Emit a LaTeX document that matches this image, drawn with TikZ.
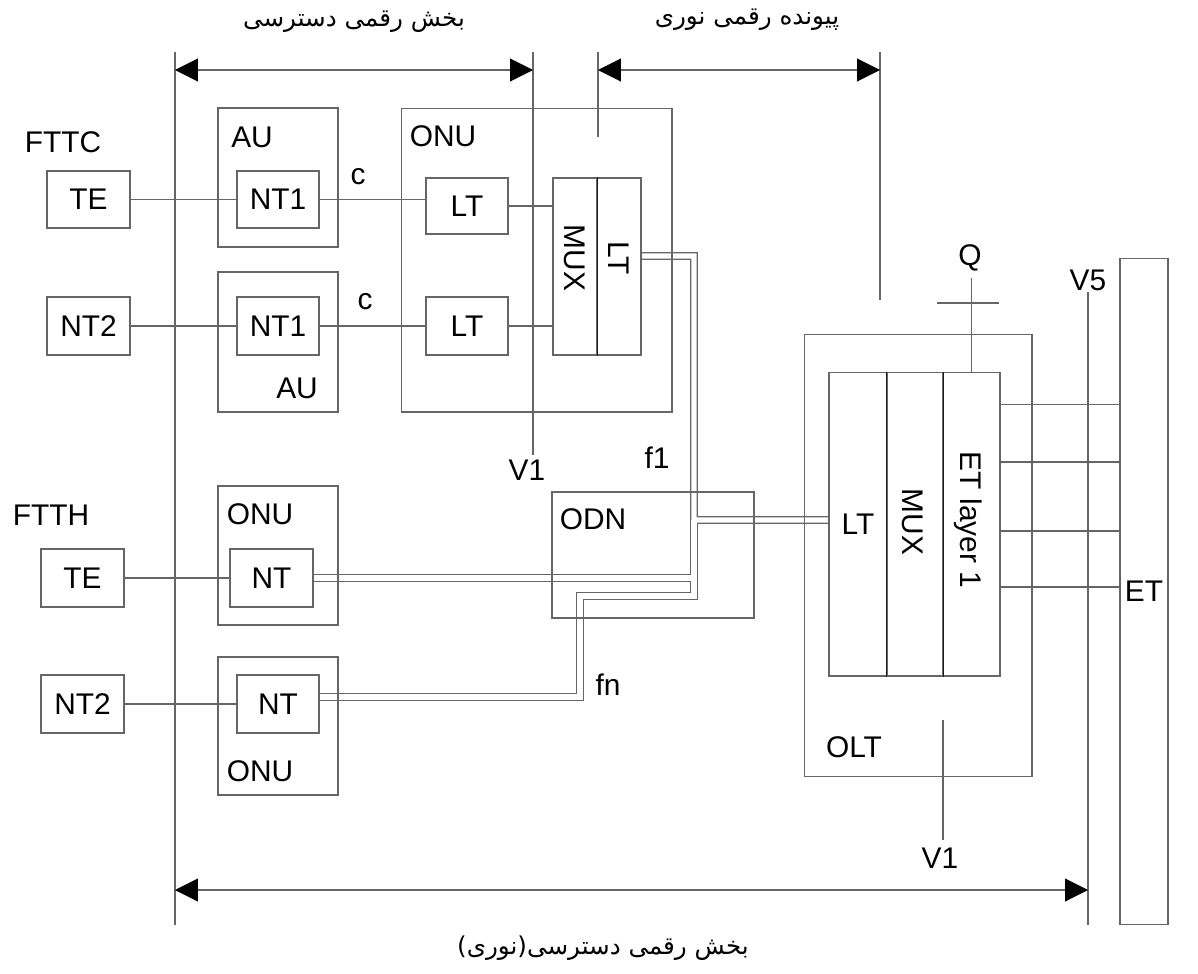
\documentclass[tikz,border=0pt]{standalone}
\usepackage{fontspec}
\setmainfont{Liberation Sans}
\newfontfamily\farsifont[Script=Arabic]{DejaVu Sans}
\TeXXeTstate=1
\usetikzlibrary{arrows.meta}
\pgfdeclarelayer{bg}
\pgfsetlayers{bg,main}
\tikzset{
  wire/.style={draw=black!60, line width=0.6pt},
  unitbox/.style={wire, inner sep=0pt, minimum width=1.66cm, minimum height=1.16cm},
  shellbox/.style={wire, inner sep=0pt, minimum width=2.4cm, minimum height=2.78cm},
  colbox/.style={wire, inner sep=0pt, minimum width=0.88cm, minimum height=3.54cm},
  divider/.style={draw=black!90, line width=0.6pt},
  dimarrow/.style={{Triangle[length=13pt,width=13pt,color=black]}-{Triangle[length=13pt,width=13pt,color=black]}, wire},
  fibre/.style={line width=#1, line join=miter},
  lbl/.style={inner sep=0pt},
  farsi/.style={inner sep=0pt, font=\farsifont\fontsize{14}{16}\selectfont}
}

\begin{document}
\begin{tikzpicture}[x=0.02cm, y=-0.02cm, every node/.style={font=\fontsize{17}{19}\selectfont}]
  \useasboundingbox (0,0) rectangle (1198,974);

  % dimension lines
  \draw[wire] (175,52) -- (175,925);
  \draw[wire] (533,52) -- (533,455);
  \draw[wire] (598,52) -- (598,137);
  \draw[wire] (880,52) -- (880,300);
  \draw[wire] (1088,292) -- (1088,925);
  \draw[wire] (943,720) -- (943,840);
  \coordinate (dimA) at (175,70);
  \coordinate (dimB) at (533,70);
  \coordinate (dimC) at (598,70);
  \coordinate (dimD) at (880,70);
  \coordinate (dimE) at (175,890);
  \coordinate (dimF) at (1088,890);
  \draw[dimarrow] (dimA) -- (dimB);
  \draw[dimarrow] (dimC) -- (dimD);
  \draw[dimarrow] (dimE) -- (dimF);
  \node[farsi] (seclbl) at (354,22) {\beginR بخش رقمی دسترسی\endR};
  \node[farsi] (linklbl) at (747,20) {\beginR پیونده رقمی نوری\endR};
  \node[farsi] (alllbl) at (603,948) {\beginR بخش رقمی دسترسی(نوری)\endR};

  % FTTC
  \node[lbl] (fttc) at (63,142) {FTTC};
  \node[unitbox, minimum height=1.14cm] (te1) at (88.5,199.5) {TE};
  \node[unitbox] (nt2a) at (88.5,326) {NT2};
  \node[shellbox] (au1) at (278,177.5) {};
  \node[lbl] (au1lbl) at (252,137) {AU};
  \node[unitbox, minimum width=1.64cm, minimum height=1.14cm] (nt1a) at (278,199.5) {NT1};
  \node[shellbox, minimum height=2.8cm] (au2) at (278,342) {};
  \node[lbl] (au2lbl) at (297,388) {AU};
  \node[unitbox, minimum width=1.64cm] (nt1b) at (278,326) {NT1};
  \node[lbl] (c1) at (358,177) {c};
  \node[lbl] (c2) at (365,302) {c};

  \node[wire, inner sep=0pt, minimum width=5.42cm, minimum height=6.08cm] (onu1) at (536.5,260) {};
  \node[lbl] (onu1lbl) at (443,136) {ONU};
  \node[unitbox, minimum width=1.64cm, minimum height=1.12cm] (lta) at (467,206) {LT};
  \node[unitbox, minimum width=1.64cm] (ltb) at (467,326) {LT};
  \node[colbox] (muxc) at (575,266.5) {};
  \node[colbox] (ltc) at (619,266.5) {};
  \draw[divider] (muxc.north east) -- (muxc.south east);
  \node[lbl, rotate=-90] at (575,258) {MUX};
  \node[lbl, rotate=-90] at (619,258) {LT};

  \draw[wire] (te1) -- (nt1a);
  \draw[wire] (nt1a.east) -- (nt1a.east -| lta.west);
  \draw[wire] (lta.east) -- (lta.east -| muxc.west);
  \draw[wire] (nt2a) -- (nt1b);
  \draw[wire] (nt1b) -- (ltb);
  \draw[wire] (ltb.east) -- (ltb.east -| muxc.west);
  \node[lbl] (v1a) at (527,470) {V1};

  % FTTH
  \node[lbl] (ftth) at (51,515) {FTTH};
  \node[unitbox] (te2) at (82.5,578) {TE};
  \node[shellbox] (onu3) at (278,555.5) {};
  \node[lbl] (onu3lbl) at (260,514) {ONU};
  \node[unitbox] (nta) at (271.5,578) {NT};
  \node[unitbox] (nt2b) at (82.5,704) {NT2};
  \node[shellbox, minimum height=2.76cm] (onu4) at (278,726) {};
  \node[lbl] (onu4lbl) at (260,771) {ONU};
  \node[unitbox, minimum width=1.64cm] (ntb) at (278,704) {NT};
  \draw[wire] (te2) -- (nta);
  \draw[wire] (nt2b) -- (ntb);

  \node[wire, inner sep=0pt, minimum width=4.04cm, minimum height=2.52cm] (odn) at (653,555) {};
  \node[lbl] (odnlbl) at (593,519) {ODN};
  \node[lbl] (f1) at (657,458) {f1};
  \node[lbl] (fn) at (608,685) {fn};

  % OLT and ET
  \node[wire, inner sep=0pt, minimum width=4.56cm, minimum height=8.86cm] (olt) at (918,555.5) {};
  \node[lbl] (oltlbl) at (854,747) {OLT};
  \node[wire, inner sep=0pt, minimum width=1.16cm, minimum height=6.08cm] (oltlt) at (858,524) {LT};
  \node[wire, inner sep=0pt, minimum width=1.12cm, minimum height=6.08cm] (oltmux) at (915,524) {};
  \node[wire, inner sep=0pt, minimum width=1.14cm, minimum height=6.08cm] (etl) at (971.5,524) {};
  \draw[divider] (oltmux.north west) -- (oltmux.south west);
  \draw[divider] (oltmux.north east) -- (oltmux.south east);
  \node[lbl, rotate=-90] at (913,522) {MUX};
  \node[lbl, rotate=-90] at (968,520) {ET layer 1};
  \node[wire, inner sep=0pt, minimum width=0.96cm, minimum height=13.34cm] (et) at (1144,591.5) {ET};
  \foreach \s in {2.4,1.24,-0.14,-1.26}
    \draw[wire] ([yshift=\s cm]etl.east) coordinate (tap) -- (tap -| et.west);

  \coordinate (qtop) at (970,278);
  \draw[wire] (etl.north) -- (etl.north |- qtop);
  \draw[wire] (937,303) -- (999,303);
  \node[lbl] (q) at (970,258) {Q};
  \node[lbl] (v5) at (1088,280) {V5};
  \node[lbl] (v1b) at (940,858) {V1};

  % fibres
  \coordinate (trunk) at (694,520);
  \coordinate (bend) at (580,596);
  \begin{pgfonlayer}{bg}
    \foreach \w/\c in {4.3pt/black!60, 3.0pt/white} {
      \draw[fibre=\w, \c] ([yshift=0.21cm]ltc.east) -| (trunk) -- ([yshift=0.08cm]oltlt.west);
      \draw[fibre=\w, \c] (nta.east) -| (trunk);
      \draw[fibre=\w, \c] ([yshift=0.14cm]ntb.east) -| (bend) -- (bend -| trunk) -- (trunk);
    }
  \end{pgfonlayer}
\end{tikzpicture}
\end{document}
